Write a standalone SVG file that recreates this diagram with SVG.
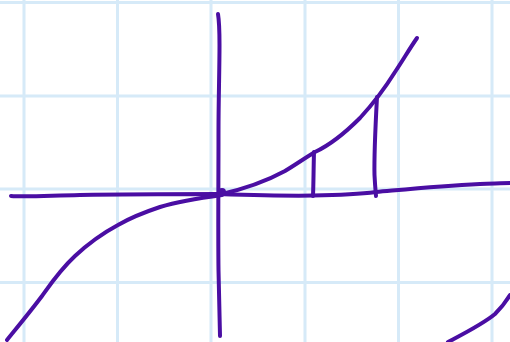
<svg xmlns="http://www.w3.org/2000/svg" width="510" height="342" viewBox="0 0 510 342">
<style>
.grid line{stroke:#d6eaf8;stroke-width:3}
.ink{fill:none;stroke:#4a0ea3;stroke-width:4;stroke-linecap:round;stroke-linejoin:round}
</style>
<rect width="510" height="342" fill="#ffffff"/>
<g class="grid">
<line x1="24" y1="0" x2="24" y2="342"/>
<line x1="117.5" y1="0" x2="117.5" y2="342"/>
<line x1="211" y1="0" x2="211" y2="342"/>
<line x1="305" y1="0" x2="305" y2="342"/>
<line x1="398.5" y1="0" x2="398.5" y2="342"/>
<line x1="492" y1="0" x2="492" y2="342"/>
<line x1="0" y1="2.5" x2="510" y2="2.5"/>
<line x1="0" y1="96" x2="510" y2="96"/>
<line x1="0" y1="189" x2="510" y2="189"/>
<line x1="0" y1="282.5" x2="510" y2="282.5"/>
</g>
<g id="sketch">
<path id="y-axis" class="ink" d="M218 14 C219 20 219.5 30 219.5 45 C219.5 70 218.5 100 218.5 130 C218.5 180 218 230 218.5 270 C219 300 219.5 320 220 336"/>
<path id="x-axis" class="ink" d="M11 196 C25 197 40 196 80 195 C130 194 180 194 218 194 C250 195 290 196 313 195.5 C340 195 360 194 376 192 C410 189 440 186 480 184 C495 183.5 505 183 510 183"/>
<path id="curve-left" class="ink" d="M7 340 C15 330 30 312 42 296 C52 282 60 270 75 256 C90 242 105 232 118 225 C130 218 145 212 160 207 C180 201 200 198 222 195"/>
<path id="curve-right" class="ink" d="M218 195 C240 190 265 182 285 171 C295 165 305 158 315 152 C330 145 345 133 360 118 C372 105 385 88 395 72 C403 60 410 48 417 38"/>
<path id="seg1" class="ink" d="M314 152 C313.5 170 313.5 185 313 196" stroke-width="3"/>
<path id="seg2" class="ink" d="M377 97 C375.5 125 374 155 374.5 175 C375 185 375.5 190 376 196" stroke-width="3"/>
<path id="curve-bottom" class="ink" d="M448 342 C465 333 483 324 495 314 C502 307 507 300 510 295"/>
<ellipse cx="222" cy="192" rx="4" ry="4" fill="#4a0ea3"/>
</g>
</svg>
